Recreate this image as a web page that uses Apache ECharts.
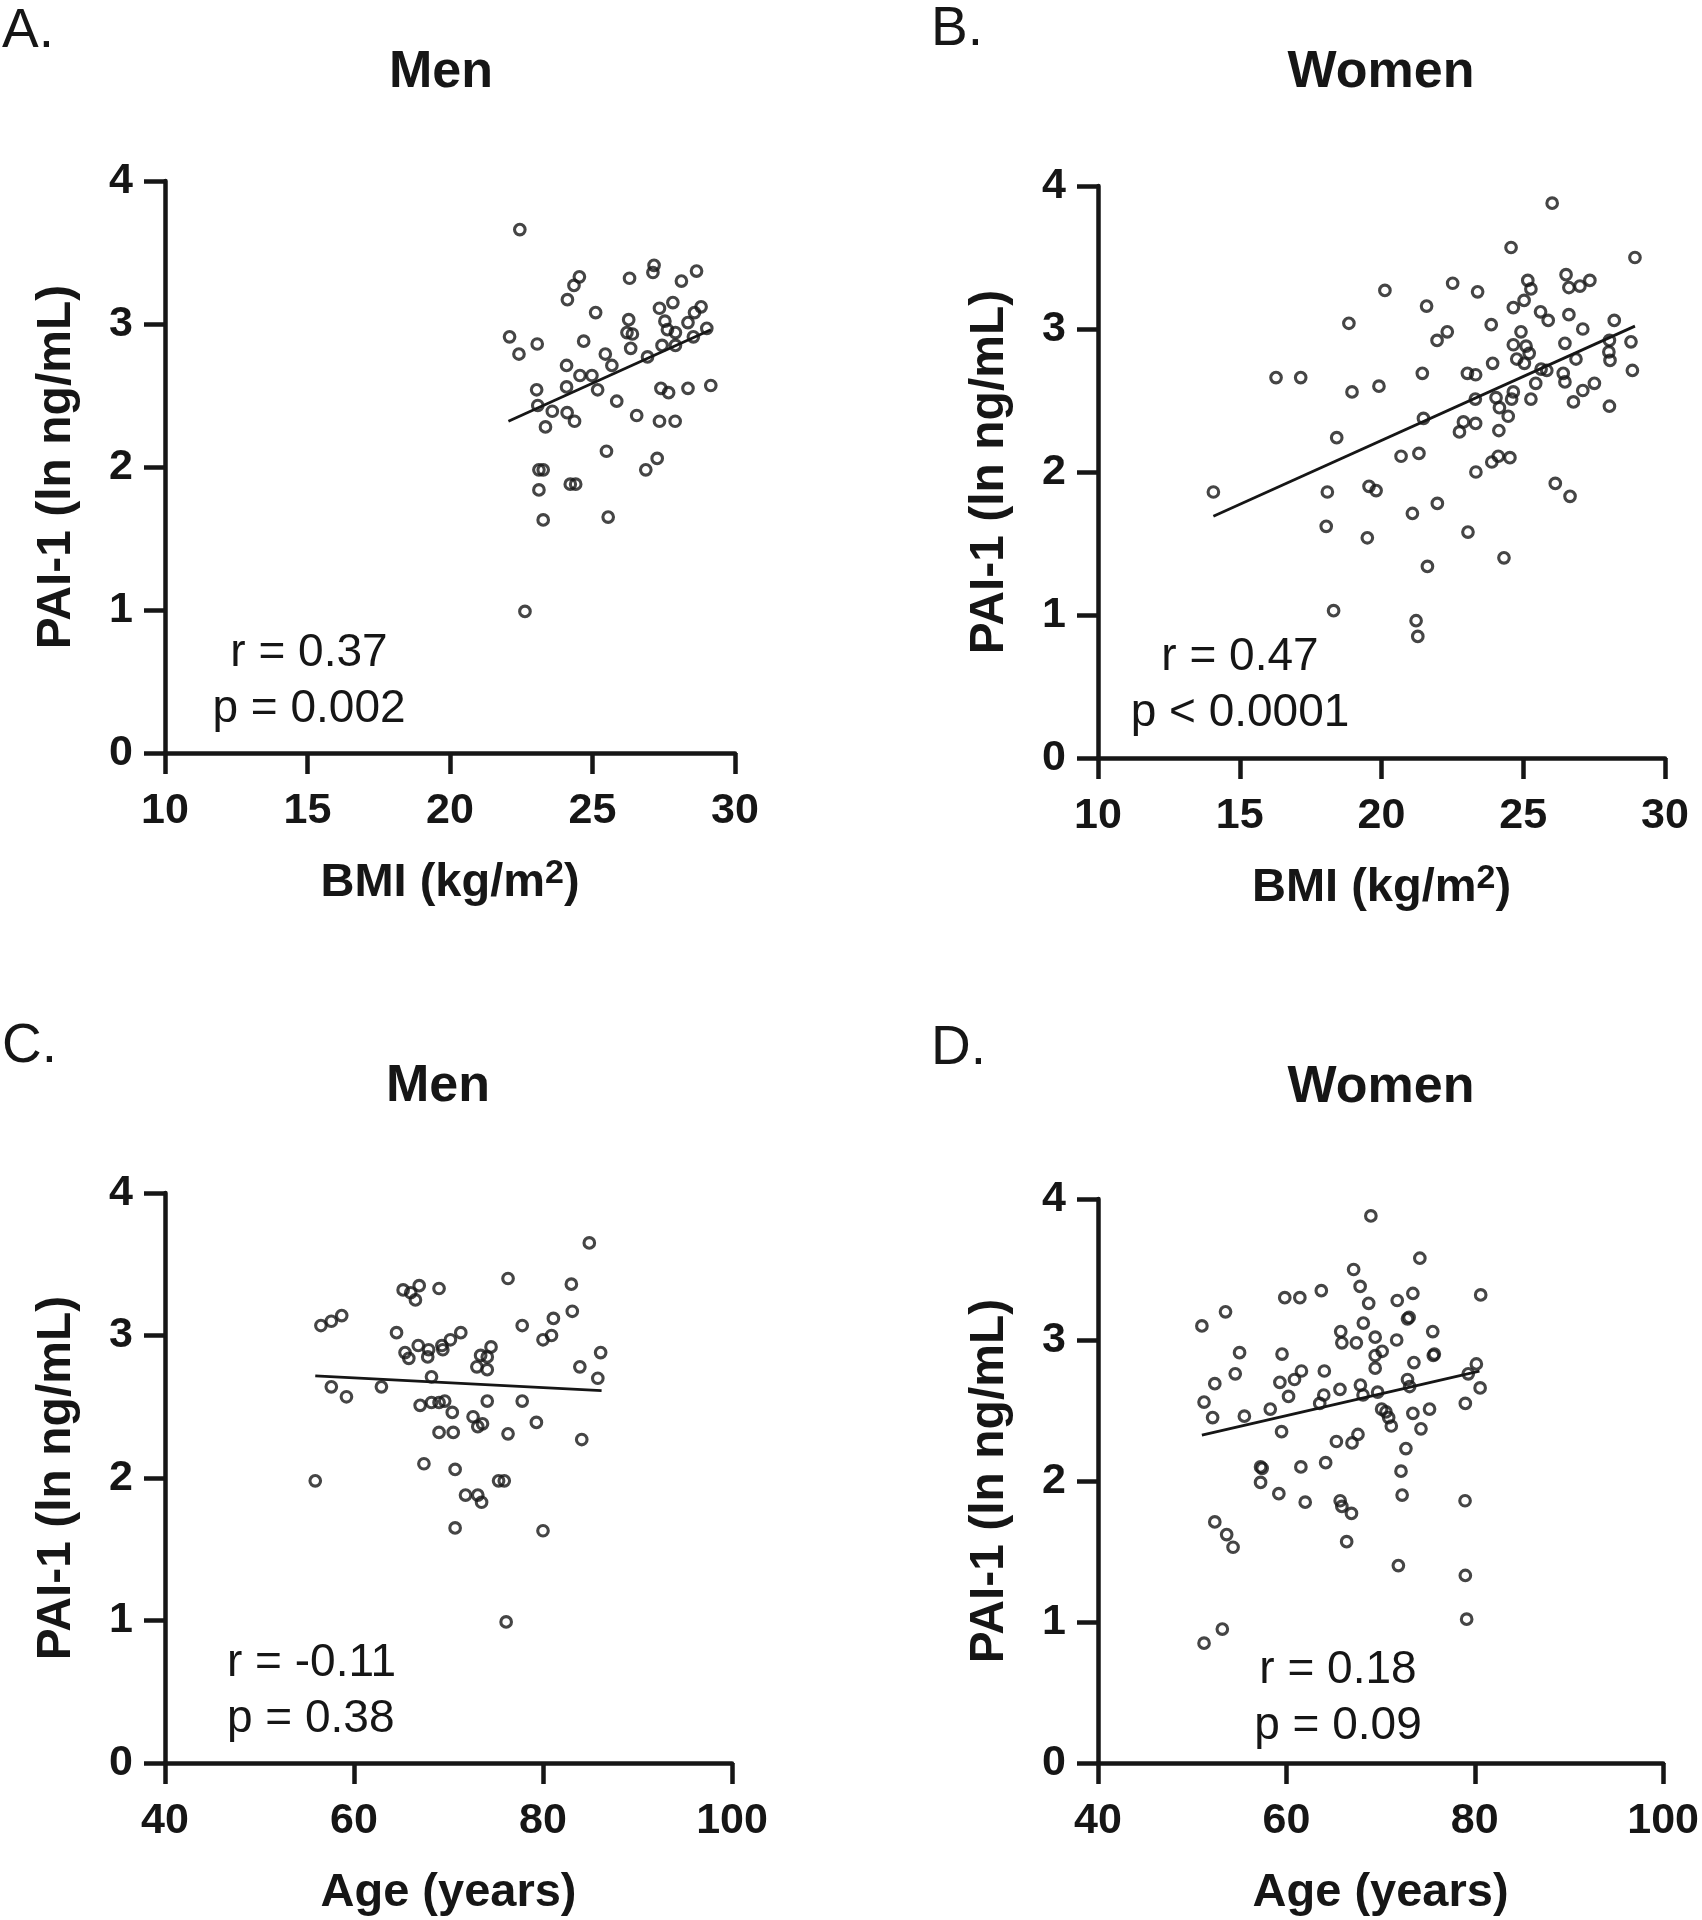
<!DOCTYPE html>
<html>
<head>
<meta charset="utf-8">
<title>PAI-1 vs BMI and Age</title>
<script src="https://cdn.jsdelivr.net/npm/echarts@6/dist/echarts.min.js"></script>
<style>
html, body { margin: 0; padding: 0; background: #fff; }
#chart { width: 1702px; height: 1920px; }
</style>
</head>
<body>
<div id="chart"></div>
<script>
// values
// A. men, BMI
var menBmi = [22.45,27.16,27.12,28.65,24.54,26.30,24.35,28.12,24.12,27.82,25.11,27.35,28.81,28.58,26.27,27.54,28.35,29.01,22.09,26.21,26.40,27.63,27.91,28.54,24.69,23.06,26.34,27.44,27.91,22.42,25.45,26.93,24.09,25.68,24.56,24.98,23.04,24.09,25.18,27.40,27.67,28.35,29.15,25.85,23.08,23.59,24.11,24.37,26.55,27.35,27.90,23.35,25.49,27.27,26.87,23.12,23.27,23.12,24.22,24.41,23.27,25.55,22.63];
var menBmiPai = [3.66,3.41,3.36,3.37,3.33,3.32,3.27,3.30,3.17,3.15,3.08,3.11,3.12,3.08,3.03,3.02,3.01,2.97,2.91,2.94,2.93,2.96,2.94,2.91,2.88,2.86,2.83,2.85,2.85,2.79,2.79,2.77,2.71,2.71,2.64,2.64,2.54,2.56,2.54,2.55,2.52,2.55,2.57,2.46,2.43,2.39,2.38,2.32,2.36,2.32,2.32,2.28,2.11,2.06,1.98,1.98,1.98,1.84,1.88,1.88,1.63,1.65,0.99];
var menBmiFit = [[22.05, 2.32], [29.15, 2.96]];

// B. women, BMI
var womenBmi = [26.02,24.57,28.94,25.16,25.27,26.51,26.61,27.00,27.35,20.12,22.51,23.39,25.03,24.65,21.59,18.85,23.87,25.61,25.88,26.61,28.21,27.10,22.32,21.96,24.92,24.65,25.10,25.21,26.47,28.04,28.80,24.77,25.04,28.02,28.06,26.86,23.92,16.28,17.15,21.44,23.03,23.32,25.63,25.83,26.41,26.47,25.44,27.51,28.85,18.96,19.91,27.10,24.65,26.77,28.04,23.31,24.04,24.59,25.27,24.16,24.47,21.48,22.89,23.32,22.75,24.14,18.42,20.69,21.32,23.89,24.12,24.53,23.33,14.07,18.09,19.56,19.81,26.13,26.65,21.97,21.09,18.05,19.50,23.05,24.32,21.62,18.31,21.22,21.28];
var womenBmiPai = [3.88,3.57,3.50,3.34,3.28,3.38,3.29,3.30,3.34,3.27,3.32,3.26,3.20,3.15,3.16,3.04,3.03,3.12,3.06,3.10,3.06,3.00,2.98,2.92,2.98,2.89,2.88,2.83,2.90,2.92,2.91,2.79,2.76,2.84,2.78,2.79,2.76,2.66,2.66,2.69,2.69,2.68,2.72,2.71,2.69,2.63,2.62,2.62,2.71,2.56,2.60,2.57,2.56,2.49,2.46,2.51,2.52,2.51,2.51,2.45,2.39,2.375,2.35,2.34,2.28,2.29,2.24,2.11,2.13,2.07,2.11,2.10,2.00,1.86,1.86,1.90,1.87,1.92,1.83,1.78,1.71,1.62,1.54,1.58,1.40,1.34,1.03,0.96,0.85];
var womenBmiFit = [[14.07, 1.69], [28.94, 3.02]];

// C. men, age
var menAge = [84.9,76.3,83.0,65.2,66.9,66.0,66.5,69.0,83.1,81.1,80.9,80.0,77.8,56.5,57.6,58.7,64.5,71.3,70.2,66.8,69.3,69.4,67.9,65.4,65.8,67.8,74.5,73.4,74.1,73.0,74.1,86.1,83.9,85.8,68.2,57.6,59.2,62.9,67.0,68.2,69.0,69.6,74.1,77.8,70.4,72.6,73.1,73.6,69.0,70.5,76.3,79.3,84.1,55.9,67.4,70.7,75.3,75.9,71.8,73.1,73.5,70.7,80.0,76.1];
var menAgePai = [3.65,3.40,3.36,3.32,3.35,3.30,3.25,3.33,3.17,3.12,3.00,2.97,3.07,3.07,3.10,3.14,3.02,3.02,2.97,2.93,2.93,2.90,2.90,2.88,2.84,2.85,2.92,2.86,2.85,2.78,2.76,2.88,2.78,2.70,2.71,2.64,2.57,2.64,2.51,2.53,2.53,2.54,2.54,2.54,2.46,2.43,2.36,2.38,2.32,2.32,2.31,2.39,2.27,1.98,2.10,2.06,1.98,1.98,1.88,1.88,1.83,1.65,1.63,0.99];
var menAgeFit = [[55.9, 2.716], [86.2, 2.613]];

// D. women, age
var womenAge = [68.97,74.17,67.14,67.83,63.71,59.83,61.43,53.54,73.43,80.63,71.77,68.74,73.03,72.86,51.03,68.17,65.77,75.54,69.43,71.71,65.89,67.43,55.03,59.54,70.17,69.43,75.60,75.71,73.54,80.17,54.57,61.60,64.03,69.43,79.31,52.40,59.31,60.86,72.86,60.23,63.97,65.69,67.86,68.14,69.69,73.09,80.57,51.26,52.17,55.54,58.29,63.54,70.11,70.57,70.86,71.14,73.43,75.20,79.00,74.29,59.49,67.60,65.31,66.97,72.69,57.26,57.43,61.54,64.17,72.17,57.26,59.20,62.00,65.71,65.89,66.91,72.29,78.97,52.40,53.66,54.34,66.40,71.89,79.00,79.14,51.26,53.20];
var womenAgePai = [3.88,3.58,3.50,3.38,3.35,3.30,3.30,3.20,3.33,3.32,3.28,3.26,3.16,3.15,3.10,3.12,3.06,3.06,3.02,3.00,2.98,2.98,2.91,2.90,2.92,2.89,2.89,2.90,2.84,2.83,2.76,2.78,2.78,2.80,2.76,2.69,2.70,2.72,2.72,2.60,2.61,2.65,2.68,2.61,2.63,2.67,2.66,2.56,2.45,2.46,2.51,2.55,2.51,2.49,2.45,2.39,2.48,2.51,2.55,2.37,2.35,2.33,2.28,2.27,2.23,2.10,2.09,2.10,2.13,2.07,1.99,1.91,1.85,1.86,1.82,1.77,1.90,1.86,1.71,1.62,1.53,1.57,1.40,1.33,1.02,0.85,0.95];
var womenAgeFit = [[51.03, 2.325], [80.5, 2.78]];

var bmiRange = [10, 30, 5];
var ageRange = [40, 100, 20];
var paiRange = [0, 4, 1];

var INK = '#161616';
var FONT = '"Liberation Sans", Arial, Helvetica, sans-serif';

var panels = [
    { grid: {left: 165, top: 181, width: 570, height: 572}, range: bmiRange, xName: 'BMI (kg/m{sup|2})',
      title: 'Men', titleAt: [441, 73], letter: 'A.', letterAt: [2, 32],
      stats: ['r = 0.37', 'p = 0.002'], statAt: [309, 653], statAlign: 'center',
      xs: menBmi, ys: menBmiPai, fit: menBmiFit },
    { grid: {left: 1098, top: 186, width: 567, height: 572}, range: bmiRange, xName: 'BMI (kg/m{sup|2})',
      title: 'Women', titleAt: [1381, 73], letter: 'B.', letterAt: [931, 30],
      stats: ['r = 0.47', 'p < 0.0001'], statAt: [1240, 657], statAlign: 'center',
      xs: womenBmi, ys: womenBmiPai, fit: womenBmiFit },
    { grid: {left: 165, top: 1193, width: 567, height: 572}, range: ageRange, xName: 'Age (years)',
      title: 'Men', titleAt: [438, 1087], letter: 'C.', letterAt: [2, 1047],
      stats: ['r = -0.11', 'p = 0.38'], statAt: [227, 1663], statAlign: 'left',
      xs: menAge, ys: menAgePai, fit: menAgeFit },
    { grid: {left: 1098, top: 1199, width: 567, height: 571}, range: ageRange, xName: 'Age (years)',
      title: 'Women', titleAt: [1381, 1088], letter: 'D.', letterAt: [931, 1049],
      stats: ['r = 0.18', 'p = 0.09'], statAt: [1338, 1670], statAlign: 'center',
      xs: womenAge, ys: womenAgePai, fit: womenAgeFit }
];

function pairs(xs, ys) {
    return xs.map(function (x, i) { return [x, ys[i]]; });
}

var axisLine = { show: true, onZero: false, lineStyle: { color: INK, width: 4.5 } };
var axisTick = { show: true, length: 21, lineStyle: { color: INK, width: 4.5 } };
var tickLabel = { color: INK, fontSize: 43, fontWeight: 'bold', fontFamily: FONT };

var grids = [], xAxes = [], yAxes = [], series = [], texts = [];

panels.forEach(function (p, i) {
    grids.push(p.grid);
    xAxes.push({
        gridIndex: i, type: 'value',
        min: p.range[0], max: p.range[1], interval: p.range[2],
        name: p.xName, nameLocation: 'middle', nameGap: 104,
        nameTextStyle: {
            color: INK, fontSize: 47, fontWeight: 'bold', fontFamily: FONT, lineHeight: 52,
            rich: { sup: { color: INK, fontSize: 34, fontWeight: 'bold', fontFamily: FONT, lineHeight: 30, verticalAlign: 'top' } }
        },
        axisLine: axisLine, axisTick: axisTick,
        axisLabel: Object.assign({ margin: 37 }, tickLabel),
        splitLine: { show: false }
    });
    yAxes.push({
        gridIndex: i, type: 'value',
        min: paiRange[0], max: paiRange[1], interval: paiRange[2],
        name: 'PAI-1 (ln ng/mL)', nameLocation: 'middle', nameRotate: 90, nameGap: 84,
        nameTextStyle: { color: INK, fontSize: 48, fontWeight: 'bold', fontFamily: FONT },
        axisLine: axisLine, axisTick: axisTick,
        axisLabel: Object.assign({ margin: 32 }, tickLabel),
        splitLine: { show: false }
    });
    series.push({
        type: 'line', xAxisIndex: i, yAxisIndex: i, data: p.fit,
        showSymbol: false, symbol: 'none', silent: true, z: 2,
        lineStyle: { color: INK, width: 2.8 }
    });
    series.push({
        type: 'scatter', xAxisIndex: i, yAxisIndex: i, data: pairs(p.xs, p.ys),
        symbol: 'circle', symbolSize: 10.6, z: 3,
        itemStyle: { color: 'rgba(255,255,255,0)', borderColor: INK, borderWidth: 3.1 }
    });

    texts.push({ type: 'text', x: p.titleAt[0], y: p.titleAt[1],
        style: { text: p.title, fill: INK, font: 'bold 52px ' + FONT, align: 'center', verticalAlign: 'middle' } });
    texts.push({ type: 'text', x: p.letterAt[0], y: p.letterAt[1],
        style: { text: p.letter, fill: INK, font: '55px ' + FONT, align: 'left', verticalAlign: 'middle' } });
    p.stats.forEach(function (s, k) {
        texts.push({ type: 'text', x: p.statAt[0], y: p.statAt[1] + k * 56,
            style: { text: s, fill: INK, font: '46px ' + FONT, align: p.statAlign, verticalAlign: 'middle' } });
    });
});

var chart = echarts.init(document.getElementById('chart'));
chart.setOption({
    backgroundColor: '#fff',
    animation: false,
    grid: grids,
    xAxis: xAxes,
    yAxis: yAxes,
    series: series,
    graphic: texts
});
</script>
</body>
</html>
